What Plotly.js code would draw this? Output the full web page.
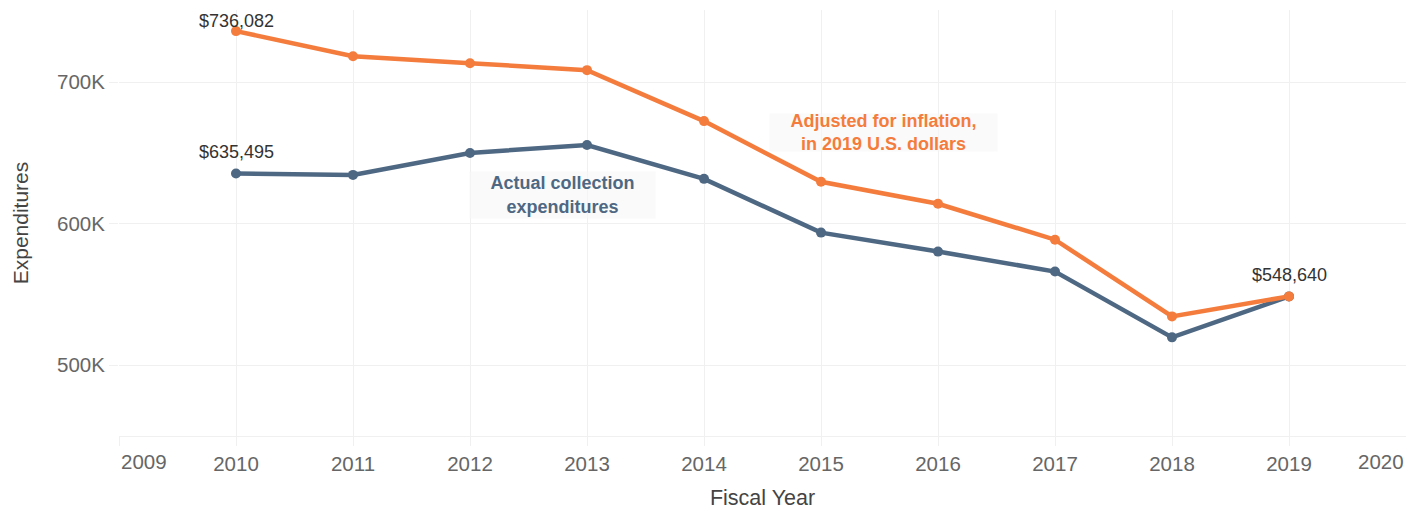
<!DOCTYPE html>
<html>
<head>
<meta charset="utf-8">
<script src="https://cdn.plot.ly/plotly-3.0.1.min.js"></script>
<style>html,body{margin:0;padding:0;background:#fff;}#chart{width:1419px;height:511px;}</style>
</head>
<body>
<div id="chart"></div>
<script>
var years = [2010, 2011, 2012, 2013, 2014, 2015, 2016, 2017, 2018, 2019];
var adjusted = [736082, 718300, 713400, 708500, 672500, 629600, 614100, 588700, 534500, 548640];
var actual = [635495, 634500, 650000, 655600, 631700, 593700, 580300, 566200, 519700, 548640];
var tickYears = [2009, 2010, 2011, 2012, 2013, 2014, 2015, 2016, 2017, 2018, 2019];
var tickText = ['', '2010', '2011', '2012', '2013', '2014', '2015', '2016', '2017', '2018', '2019'];
var edgeLabels = ['2009', '2020'];
var yTicks = [500000, 600000, 700000];
var yTickText = ['500K', '600K', '700K'];

var orange = '#F47C3C';
var blue = '#4E6883';
var grid = '#F0F0F0';
var FONT = 'Arial, "Liberation Sans", sans-serif';

function money(v) { return '$' + v.toLocaleString('en-US'); }

var traces = [
  {x: years, y: actual, mode: 'lines+markers', line: {color: blue, width: 4.5}, marker: {color: blue, size: 10}, hoverinfo: 'x+y', showlegend: false},
  {x: years, y: adjusted, mode: 'lines+markers', line: {color: orange, width: 4.5}, marker: {color: orange, size: 10}, hoverinfo: 'x+y', showlegend: false}
];

var annotations = [
  {x: years[0], y: adjusted[0], text: money(adjusted[0]), showarrow: false, yshift: 10, font: {family: FONT, size: 18, color: '#333'}},
  {x: years[0], y: actual[0], text: money(actual[0]), showarrow: false, yshift: 21, font: {family: FONT, size: 18, color: '#333'}},
  {x: years[9], y: actual[9], text: money(actual[9]), showarrow: false, yshift: 21, font: {family: FONT, size: 18, color: '#333'}},
  {x: 2012.79, y: 620400, text: '<b>Actual collection<br>expenditures</b>', showarrow: false, align: 'center',
   width: 183, height: 44,
   font: {family: FONT, size: 18, color: blue}, bgcolor: 'rgba(246,246,246,0.6)', borderpad: 1},
  {x: 2015.53, y: 664500, text: '<b>Adjusted for inflation,<br>in 2019 U.S. dollars</b>', showarrow: false, align: 'center',
   width: 227, height: 37,
   font: {family: FONT, size: 18, color: orange}, bgcolor: 'rgba(246,246,246,0.6)', borderpad: 0},
  {x: 2009, xref: 'x', y: 0, yref: 'paper', yanchor: 'top', xanchor: 'left', yshift: -12, text: edgeLabels[0], showarrow: false, font: {family: FONT, size: 20.5, color: '#666'}},
  {x: 2020, xref: 'x', y: 0, yref: 'paper', yanchor: 'top', xanchor: 'right', yshift: -12, text: edgeLabels[1], showarrow: false, font: {family: FONT, size: 20.5, color: '#666'}}
];

var layout = {
  width: 1419, height: 511,
  margin: {l: 119, r: 13, t: 10, b: 75},
  paper_bgcolor: '#fff', plot_bgcolor: '#fff',
  font: {family: FONT},
  xaxis: {
    range: [2009, 2020], tickvals: tickYears, ticktext: tickText,
    showgrid: true, gridcolor: grid, gridwidth: 1,
    ticks: 'outside', ticklen: 9, tickcolor: grid, tickwidth: 1,
    showline: true, linecolor: grid, linewidth: 1,
    zeroline: false,
    tickfont: {family: FONT, size: 20.5, color: '#666'},
    title: {text: 'Fiscal Year', font: {family: FONT, size: 21.5, color: '#444'}, standoff: 16}
  },
  yaxis: {
    range: [450000, 751000], tickvals: yTicks, ticktext: yTickText,
    showgrid: true, gridcolor: grid, gridwidth: 1,
    ticks: 'outside', ticklen: 9, tickcolor: grid,
    showline: false, zeroline: false,
    tickfont: {family: FONT, size: 20.5, color: '#666'},
    title: {text: 'Expenditures', font: {family: FONT, size: 21, color: '#444'}, standoff: 22}
  },
  annotations: annotations
};

Plotly.newPlot('chart', traces, layout, {displayModeBar: false, staticPlot: true});
</script>
</body>
</html>
